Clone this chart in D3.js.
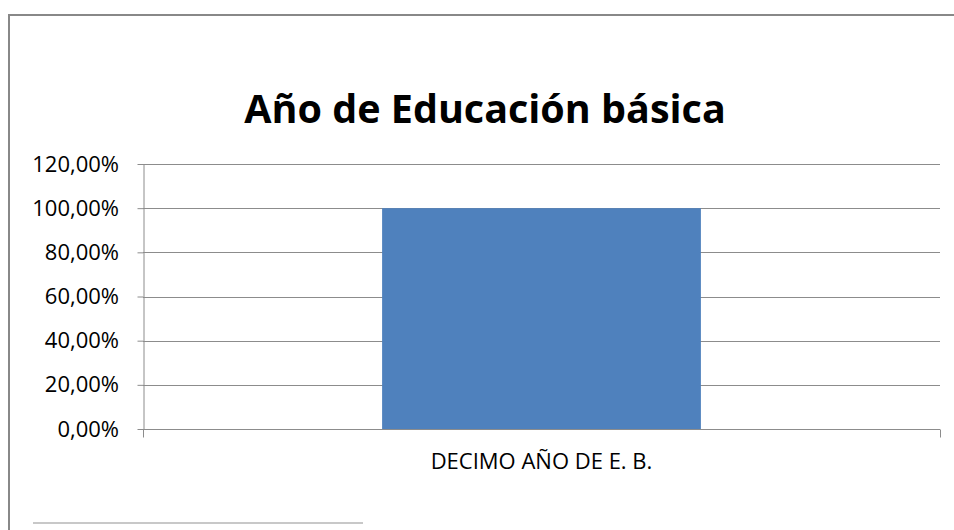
<!DOCTYPE html>
<html lang="es">
<head>
<meta charset="utf-8">
<style>
  body { margin: 0; background: #fff; }
  svg text { font-family: 'Open Sans', sans-serif; fill: #000; }
</style>
</head>
<body>
<div id="chart"></div>
<script src="https://d3js.org/d3.v7.min.js"></script>
<script>
  const categories = ['DECIMO AÑO DE E. B.'];
  const values = [1.0];
  const yTicks = [0, 0.2, 0.4, 0.6, 0.8, 1.0, 1.2];
  const title = 'Año de Educación básica';

  const width = 954, height = 530;
  const margin = { top: 164, right: 14, bottom: 101, left: 143 };

  const svg = d3.select('#chart').append('svg')
    .attr('width', width)
    .attr('height', height);

  // marco del gráfico (sale por la derecha y abajo)
  svg.append('rect')
    .attr('x', 9).attr('y', 15)
    .attr('width', width + 10).attr('height', height + 10)
    .attr('fill', 'none')
    .attr('stroke', '#888').attr('stroke-width', 2);

  svg.append('text')
    .attr('x', 485).attr('y', 123)
    .attr('text-anchor', 'middle')
    .style('font-size', '39.5px').style('font-weight', 'bold')
    .text(title);

  const x = d3.scaleBand()
    .domain(categories)
    .range([margin.left, width - margin.right])
    .paddingInner(0.6).paddingOuter(0.3);

  const y = d3.scaleLinear()
    .domain([0, 1.2])
    .range([height - margin.bottom, margin.top]);

  const fmt = d => d3.format('.2f')(d * 100).replace('.', ',') + '%';

  // líneas de cuadrícula
  svg.append('g')
    .selectAll('line')
    .data(yTicks.slice(1))
    .join('line')
    .attr('x1', margin.left).attr('x2', width - margin.right)
    .attr('y1', d => Math.round(y(d)) + 0.5).attr('y2', d => Math.round(y(d)) + 0.5)
    .attr('stroke', '#8c8c8c').attr('stroke-width', 1.2);

  // eje Y
  const yAxis = svg.append('g')
    .attr('transform', `translate(${margin.left + 0.5},0)`)
    .call(d3.axisLeft(y).tickValues(yTicks).tickFormat(fmt).tickSize(6).tickSizeOuter(0));
  yAxis.select('.domain').attr('stroke', '#8c8c8c');
  yAxis.selectAll('.tick line').attr('stroke', '#8c8c8c');
  yAxis.selectAll('.tick text')
    .attr('x', -24.5)
    .style('font-size', '22px').style('font-family', "'Open Sans', sans-serif")
    .attr('fill', '#000');

  // barras
  svg.append('g')
    .selectAll('rect')
    .data(values)
    .join('rect')
    .attr('x', (d, i) => x(categories[i]))
    .attr('y', d => y(d))
    .attr('width', x.bandwidth())
    .attr('height', d => y(0) - y(d))
    .attr('fill', '#4f81bd');

  // eje X
  const base = Math.round(y(0)) + 0.5;
  const xAxis = svg.append('g');
  xAxis.append('line')
    .attr('x1', margin.left).attr('x2', width - margin.right)
    .attr('y1', base).attr('y2', base)
    .attr('stroke', '#8c8c8c').attr('stroke-width', 1.2);
  xAxis.selectAll('.edge')
    .data([margin.left, width - margin.right])
    .join('line')
    .attr('x1', d => d + 0.5).attr('x2', d => d + 0.5)
    .attr('y1', base).attr('y2', base + 8)
    .attr('stroke', '#8c8c8c');
  xAxis.selectAll('text')
    .data(categories)
    .join('text')
    .attr('x', d => x(d) + x.bandwidth() / 2)
    .attr('y', 469)
    .attr('text-anchor', 'middle')
    .style('font-size', '22px')
    .text(d => d);

  // línea gris abajo a la izquierda
  svg.append('line')
    .attr('x1', 33).attr('x2', 363)
    .attr('y1', 523).attr('y2', 523)
    .attr('stroke', '#c8c8c8').attr('stroke-width', 2);
</script>
</body>
</html>
